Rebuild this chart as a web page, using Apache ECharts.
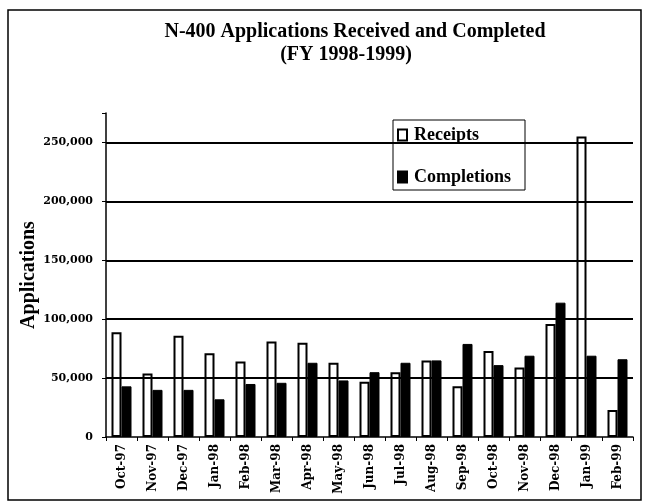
<!DOCTYPE html>
<html>
<head>
<meta charset="utf-8">
<script src="https://cdn.jsdelivr.net/npm/echarts@6/dist/echarts.min.js"></script>
<style>
  html, body { margin: 0; padding: 0; background: #fff; }
  #main { width: 648px; height: 504px; }
</style>
</head>
<body>
<div id="main"></div>
<script>
// months of FY 1998-1999
const months = ['Oct-97', 'Nov-97', 'Dec-97', 'Jan-98', 'Feb-98', 'Mar-98', 'Apr-98', 'May-98', 'Jun-98',
  'Jul-98', 'Aug-98', 'Sep-98', 'Oct-98', 'Nov-98', 'Dec-98', 'Jan-99', 'Feb-99'];
const receipts = [89000, 54000, 86000, 71000, 64000, 81000, 80000, 63000, 47000,
  55000, 65000, 43000, 73000, 59000, 96000, 255000, 23000];
const completions = [43000, 40000, 40000, 32000, 45000, 46000, 63000, 48000, 55000,
  63000, 65000, 79000, 61000, 69000, 114000, 69000, 66000];
const gridValues = [50000, 100000, 150000, 200000, 250000];

const serif = '"Liberation Serif", "DejaVu Serif", serif';
const wideSerif = '"DejaVu Serif", "Liberation Serif", serif';

const chart = echarts.init(document.getElementById('main'), null, { renderer: 'canvas' });

const option = {
  backgroundColor: '#fff',
  animation: false,
  textStyle: { fontFamily: serif, color: '#000' },
  title: [
    {
      text: 'N-400 Applications Received and Completed',
      left: 350, top: 17, textAlign: 'center',
      textStyle: { fontFamily: serif, fontSize: 20, fontWeight: 'bold', color: '#000' }
    },
    {
      text: '(FY 1998-1999)',
      left: 341, top: 40, textAlign: 'center',
      textStyle: { fontFamily: serif, fontSize: 20, fontWeight: 'bold', color: '#000' }
    }
  ],
  legend: {
    data: ['Receipts', 'Completions'],
    orient: 'vertical',
    left: 393, top: 120,
    padding: [6, 14, 4, 4],
    itemGap: 24,
    itemWidth: 9, itemHeight: 11,
    icon: 'rect',
    backgroundColor: '#fff',
    borderColor: '#000', borderWidth: 1,
    textStyle: { fontFamily: serif, fontSize: 18, fontWeight: 'bold', color: '#000', padding: [0, 0, 0, 2] }
  },
  grid: { left: 106, right: 15, top: 113, bottom: 67 },
  xAxis: {
    type: 'category',
    data: months,
    axisLine: { lineStyle: { color: '#000', width: 1.5 } },
    axisTick: { show: true, length: 4, lineStyle: { color: '#000' } },
    axisLabel: {
      rotate: 90, interval: 0, margin: 7,
      fontFamily: wideSerif, fontSize: 12, fontWeight: 'bold', color: '#000'
    }
  },
  yAxis: {
    type: 'value',
    min: 0, max: 275000, interval: 50000,
    name: 'Applications',
    nameLocation: 'middle',
    nameGap: 67,
    nameMoveOverlap: false,
    nameTextStyle: { fontFamily: serif, fontSize: 20, fontWeight: 'bold', color: '#000' },
    axisLine: { show: true, lineStyle: { color: '#000', width: 1.5 } },
    axisTick: { show: true, length: 4, lineStyle: { color: '#000' } },
    splitLine: { show: false },
    axisLabel: {
      margin: 13,
      fontFamily: wideSerif, fontSize: 11, fontWeight: 'bold', color: '#000',
      formatter: v => (v > 250000 ? '' : v.toLocaleString('en-US'))
    }
  },
  series: [
    {
      // horizontal gridlines, kept behind the bars
      name: 'grid',
      type: 'line',
      data: [],
      z: 1,
      silent: true,
      markLine: {
        silent: true,
        symbol: 'none',
        label: { show: false },
        lineStyle: { color: '#000', width: 1.8, type: 'solid' },
        data: gridValues.map(v => ({ yAxis: v }))
      }
    },
    {
      name: 'Receipts',
      type: 'bar',
      data: receipts,
      barWidth: 10,
      barGap: '0%',
      z: 3,
      itemStyle: { color: '#fff', borderColor: '#000', borderWidth: 2 }
    },
    {
      name: 'Completions',
      type: 'bar',
      data: completions,
      barWidth: 10,
      z: 3,
      itemStyle: { color: '#000', borderColor: '#000', borderWidth: 1 }
    }
  ],
  graphic: [
    {
      type: 'rect',
      shape: { x: 8, y: 10, width: 633, height: 490 },
      style: { fill: 'none', stroke: '#000', lineWidth: 1.5 },
      silent: true
    }
  ]
};

chart.setOption(option);
</script>
</body>
</html>
